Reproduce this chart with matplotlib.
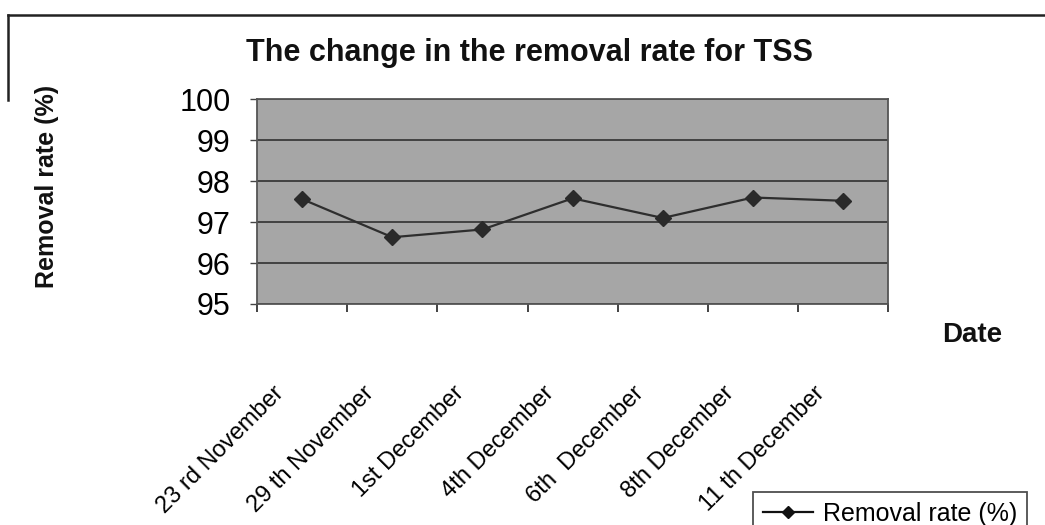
import matplotlib
matplotlib.use("Agg")
import matplotlib.pyplot as plt
from matplotlib.lines import Line2D
from matplotlib.transforms import ScaledTranslation
import numpy as np

categories = ["23 rd November", "29 th November", "1st December", "4th December",
              "6th  December", "8th December", "11 th December"]
removal_rate = [97.56, 96.63, 96.82, 97.58, 97.1, 97.6, 97.52]
y_ticks = [95, 96, 97, 98, 99, 100]

plt.rcParams['font.family'] = ['Liberation Sans', 'DejaVu Sans']

fig = plt.figure(figsize=(10.45, 5.25), dpi=100)
ax = fig.add_axes([0.246, 0.421, 0.604, 0.390])
ax.set_facecolor('#a6a6a6')

x = np.arange(len(categories))
ax.plot(x, removal_rate, color='#2e2e2e', lw=1.6, marker='D', markersize=8,
        markerfacecolor='#2a2a2a', markeredgecolor='#2a2a2a', zorder=3)

ax.set_xlim(-0.5, len(categories) - 0.5)
ax.set_ylim(95, 100)
ax.set_yticks(y_ticks)
ax.set_yticklabels([str(v) for v in y_ticks], fontsize=22)
ax.yaxis.grid(True, color='#3a3a3a', lw=1.3)
ax.set_axisbelow(True)

ax.set_xticks(np.arange(len(categories) + 1) - 0.5)
ax.set_xticklabels([])
ax.set_xticks(x, minor=True)
ax.set_xticklabels(categories, minor=True, rotation=45, ha='right', va='center',
                   rotation_mode='anchor', fontsize=17)
ax.tick_params(axis='x', which='minor', length=0, pad=62)
ax.tick_params(axis='x', which='major', length=6, width=1.2, direction='out', color='#222222')
ax.tick_params(axis='y', length=5, width=1, color='#444444', pad=14)
for lab in ax.get_xticklabels(minor=True):
    lab.set_transform(lab.get_transform() + ScaledTranslation(-0.22, 0, fig.dpi_scale_trans))

for s in ax.spines.values():
    s.set_color('#555555')
    s.set_linewidth(1.3)

fig.text(0.507, 0.90, 'The change in the removal rate for TSS', ha='center', va='center',
         fontsize=22, fontweight='bold', color='#111111')
fig.text(0.045, 0.645, 'Removal rate (%)', ha='center', va='center', rotation=90,
         fontsize=18, fontweight='bold', color='#111111')
fig.text(0.930, 0.362, 'Date', ha='center', va='center', fontsize=20,
         fontweight='bold', color='#111111')

handle = Line2D([], [], color='#111111', lw=1.6, marker='D', markersize=6,
                markerfacecolor='#111111', markeredgecolor='#111111')
leg = fig.legend([handle], ['Removal rate (%)'], loc='lower right',
                 bbox_to_anchor=(0.995, -0.045), fontsize=18, frameon=True, fancybox=False,
                 edgecolor='#222222', handlelength=2.0, handletextpad=0.4, borderpad=0.4)
leg.get_frame().set_linewidth(1.3)

# outer chart border (partially visible)
fig.add_artist(Line2D([8/1045, 1.0], [1 - 15/525, 1 - 15/525], color='#222222', lw=1.8,
                      transform=fig.transFigure))
fig.add_artist(Line2D([8/1045, 8/1045], [1 - 15/525, 1 - 100/525], color='#222222', lw=1.8,
                      transform=fig.transFigure))

fig.savefig('out.png', dpi=100)
